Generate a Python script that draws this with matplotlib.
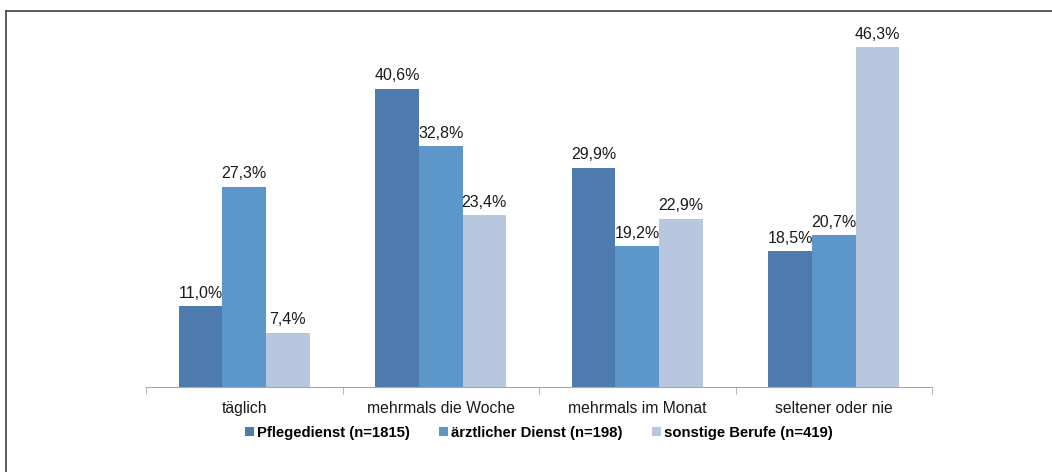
import matplotlib.pyplot as plt
from matplotlib.lines import Line2D
import numpy as np

plt.rcParams['font.family'] = ['Liberation Sans', 'DejaVu Sans']

categories = ['täglich', 'mehrmals die Woche', 'mehrmals im Monat', 'seltener oder nie']
series_names = ['Pflegedienst (n=1815)', 'ärztlicher Dienst (n=198)', 'sonstige Berufe (n=419)']
pflege = [11.0, 40.6, 29.9, 18.5]
aerzte = [27.3, 32.8, 19.2, 20.7]
sonstige = [7.4, 23.4, 22.9, 46.3]
colors = ['#4E7BAD', '#5D97CA', '#B8C7E0']

fig = plt.figure(figsize=(10.52, 4.72), dpi=100)
ax = fig.add_axes([146 / 1052, 85 / 472, 786 / 1052, 367 / 472])

x = np.arange(len(categories))
w = 0.222
for i, (vals, name, col) in enumerate(zip([pflege, aerzte, sonstige], series_names, colors)):
    pos = x + (i - 1) * w
    bars = ax.bar(pos, vals, width=w, color=col, label=name)
    for b, v in zip(bars, vals):
        ax.annotate(f"{v:.1f}%".replace('.', ','),
                    (b.get_x() + b.get_width() / 2, b.get_height()),
                    xytext=(0, 4), textcoords='offset points',
                    ha='center', va='bottom', fontsize=11.5, color='#1a1a1a')

ax.set_xlim(-0.5, 3.5)
ax.set_ylim(0, 50)
ax.set_yticks([])
for s in ['top', 'right', 'left']:
    ax.spines[s].set_visible(False)
ax.spines['bottom'].set_color('#A6A6A6')

ax.set_xticks(x)
ax.set_xticklabels(categories, fontsize=11.3, color='#1a1a1a')
ax.tick_params(axis='x', which='major', length=0, pad=10)
ax.set_xticks(np.arange(-0.5, 4.0, 1.0), minor=True)
ax.tick_params(axis='x', which='minor', length=5, color='#A6A6A6')

ax.legend(loc='center', bbox_to_anchor=(0.5, -46 / 367), ncol=3, frameon=False,
          prop={'weight': 'bold', 'size': 10.7}, handlelength=0.6, handleheight=0.6,
          handletextpad=0.2, columnspacing=2.0, borderaxespad=0)

# outer frame (left and top edges visible)
fig.add_artist(Line2D([6 / 1052, 6 / 1052], [0, 1 - 11 / 472], transform=fig.transFigure,
                      color='#404040', lw=1.2))
fig.add_artist(Line2D([6 / 1052, 1], [1 - 11 / 472, 1 - 11 / 472], transform=fig.transFigure,
                      color='#404040', lw=1.2))

fig.savefig('out.png', dpi=100)
